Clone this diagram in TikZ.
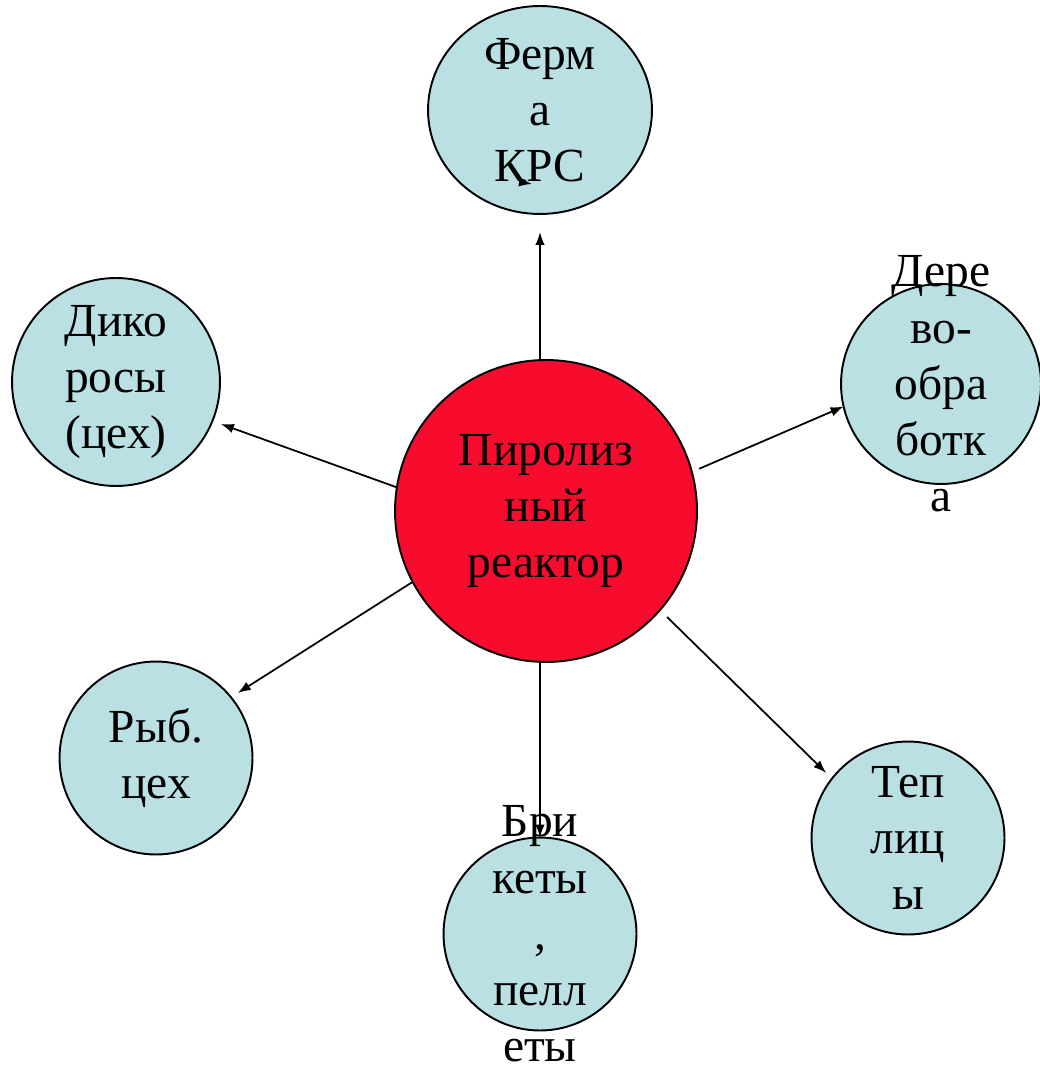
\documentclass[tikz,border=0pt]{standalone}
\usepackage{fontspec}
\setmainfont{Liberation Serif}
\newfontfamily\capfont{Liberation Serif}
\usetikzlibrary{positioning, shapes.geometric, arrows.meta}

\definecolor{unitblue}{RGB}{186,224,227}
\definecolor{reactorred}{RGB}{248,12,46}

\tikzset{
    unit/.style={circle, draw, line width=1.1pt, fill=unitblue, inner sep=0pt, outer sep=0pt},
    core/.style={unit, fill=reactorred},
    caption/.style={align=center, inner sep=0pt, font=\capfont\fontsize{27}{32}\selectfont},
    arr/.style={-{Latex[length=2.6mm,width=1.9mm]}, line width=1pt}
}

\begin{document}
\begin{tikzpicture}[x=0.02cm, y=-0.02cm]
        \useasboundingbox (0,0) rectangle (1039,1070);

        \node[core, minimum size=6.04cm] (reactor) at (546,511) {};
        \node[unit, ellipse, minimum width=4.48cm, minimum height=4.16cm] (ferma) at (540,110) {};
        \node[unit, minimum size=4.16cm] (dikoros) at (116,382) {};
        \node[unit, minimum size=4.0cm] (derevo) at (941,384) {};
        \node[unit, minimum size=3.86cm] (ryb) at (156,758) {};
        \node[unit, minimum size=3.86cm] (briket) at (540,934) {};
        \node[unit, minimum size=3.86cm] (tepl) at (908,838) {};

        \node[caption] (reactor-t) at (reactor) {Пиролиз\\ный\\реактор};
        \node[caption] (ferma-t) at (ferma) {Ферм\\а\\КРС};
        \node[caption] (dikoros-t) at (dikoros) {Дико\\росы\\(цех)};
        \node[caption] (derevo-t) at (derevo) {Дере\\во-\\обра\\ботк\\а};
        \node[caption] (ryb-t) at (ryb) {Рыб.\\цех};
        \node[caption] (briket-t) at (briket) {Бри\\кеты\\,\\пелл\\еты};
        \node[caption] (tepl-t) at (tepl) {Теп\\лиц\\ы};

        \draw[arr, shorten >=0.36cm] (ferma.south |- reactor.north) -- (ferma.south);
        \draw[arr, shorten >=0.18cm] (reactor.171) -- (dikoros.338);
        \draw[arr, shorten <=0.16cm] (reactor.15) -- (derevo.193);
        \draw[arr, shorten >=0.16cm] (reactor.208) -- (ryb.39);
        \draw[arr] (briket.north |- reactor.south) -- (briket.north);
        \draw[arr, shorten <=0.2cm, shorten >=0.16cm] (reactor.319) -- (tepl.142);

        \coordinate (stray) at (526,183);
        \draw[arr] (stray) -- ++(6,1);
\end{tikzpicture}
\end{document}
